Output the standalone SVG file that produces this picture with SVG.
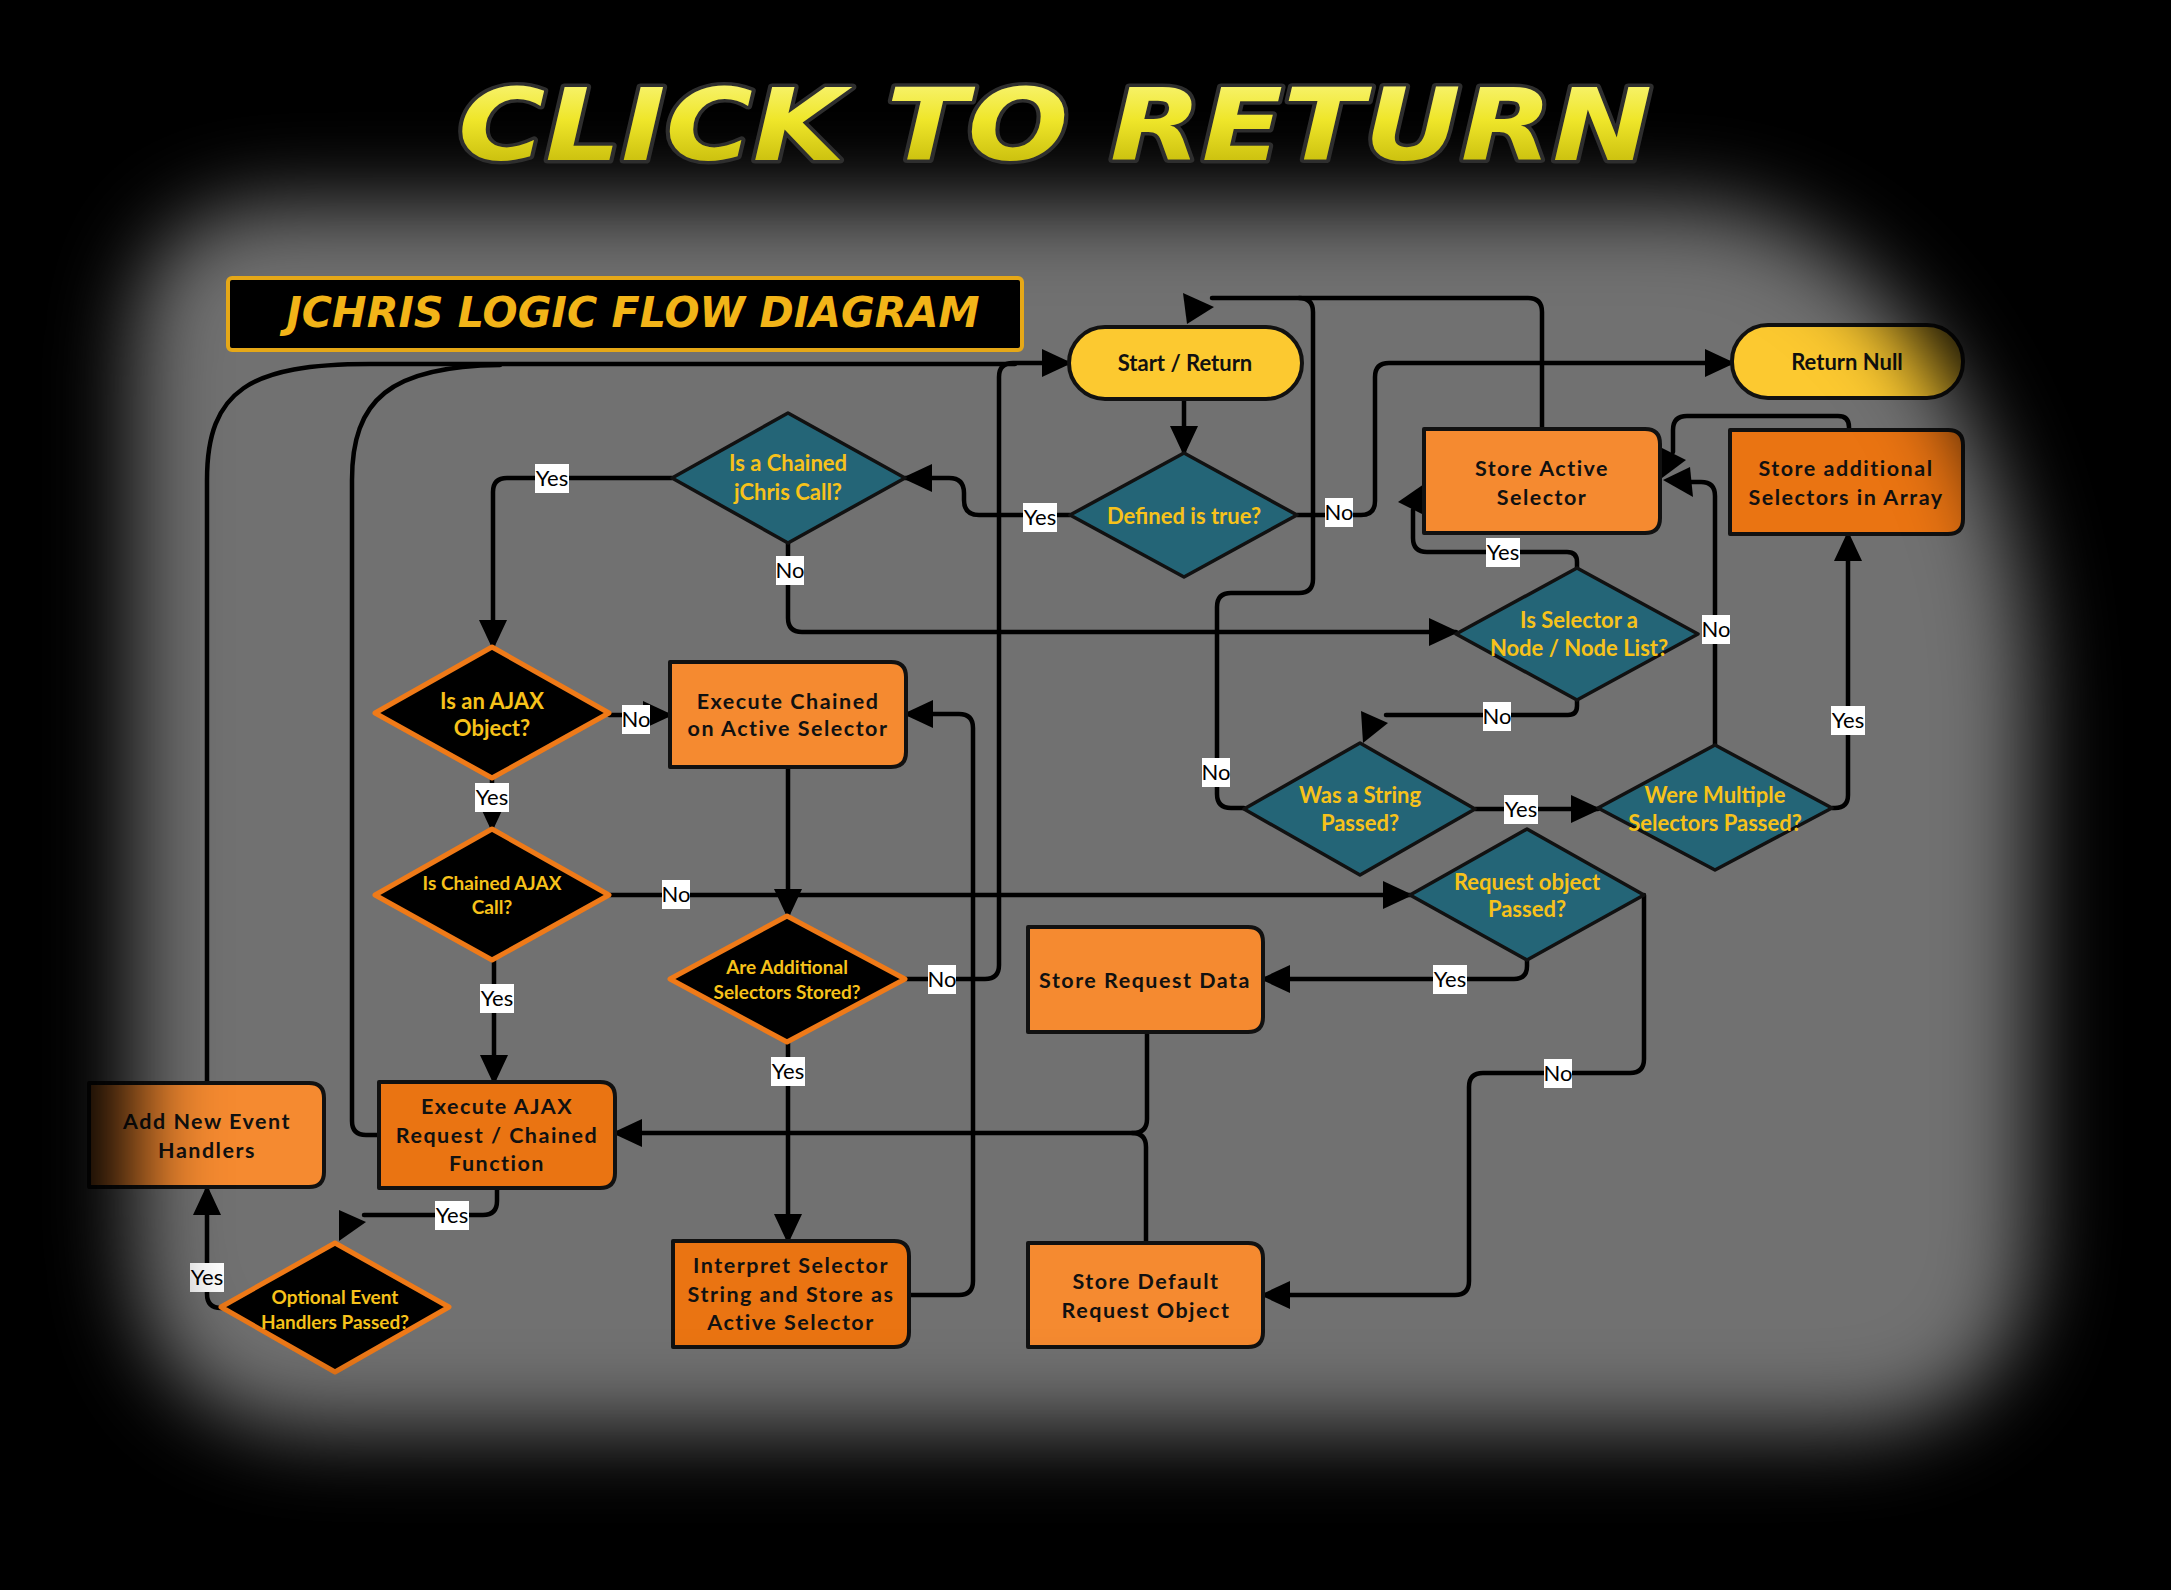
<svg xmlns="http://www.w3.org/2000/svg" width="2171" height="1590" viewBox="0 0 2171 1590">
<defs>
<style>
.ln{fill:none;stroke:#000;stroke-width:4.5;stroke-linecap:round;stroke-linejoin:round}
.ar{fill:#000}
.teal{fill:#246577;stroke:#111;stroke-width:3.5;stroke-linejoin:round}
.blk{fill:#000;stroke:#ef7a18;stroke-width:5;stroke-linejoin:round}
.or1{fill:#f58a30;stroke:#111;stroke-width:4;stroke-linejoin:round}
.or2{fill:#ea7412;stroke:#111;stroke-width:4;stroke-linejoin:round}
.pill{fill:#fcc930;stroke:#111;stroke-width:4}
.rt{font-family:Lato,"Open Sans",sans-serif;font-weight:700;font-size:21.5px;letter-spacing:1.5px;fill:#111;text-anchor:middle}
.pt{font-family:Lato,"Open Sans",sans-serif;font-weight:700;font-size:22px;fill:#111;text-anchor:middle}
.dt{font-family:Lato,"Open Sans",sans-serif;font-weight:700;font-size:22px;fill:#f7c21a;text-anchor:middle}
.ds{font-size:19px}
.lbr{fill:#fff}
.lbt{font-family:Lato,"Open Sans",sans-serif;font-size:22px;fill:#000;text-anchor:middle}
</style>
<marker id="ah" viewBox="0 0 30 28" refX="27" refY="14" markerWidth="30" markerHeight="28" markerUnits="userSpaceOnUse" orient="auto">
<path d="M0,0 L30,14 L0,28 Z" fill="#000"/>
</marker>
<filter id="vb" filterUnits="userSpaceOnUse" x="-200" y="-200" width="2600" height="2000">
<feGaussianBlur stdDeviation="42"/>
</filter>
<mask id="vm" maskUnits="userSpaceOnUse" x="0" y="0" width="2171" height="1590">
<rect x="0" y="0" width="2171" height="1590" fill="#fff"/>
<path d="M135,355 Q135,205 285,205 H1680 A350 500 0 0 1 2030 705 V1230 Q2030,1430 1830,1430 H335 Q135,1430 135,1230 Z" fill="#000" filter="url(#vb)"/>
</mask>
<linearGradient id="tg" x1="0" y1="0" x2="0" y2="1">
<stop offset="0" stop-color="#fbf88a"/>
<stop offset="0.45" stop-color="#efe62a"/>
<stop offset="1" stop-color="#b9ad00"/>
</linearGradient>
</defs>

<rect x="0" y="0" width="2171" height="1590" fill="#717171"/>

<g id="connectors">
<path class="ln" marker-end="url(#ah)" d="M1184,399 V453"/>
<path class="ln" marker-end="url(#ah)" d="M1070,515 H979 Q964,515 964,500 V493 Q964,478 949,478 H905"/>
<path class="ln" marker-end="url(#ah)" d="M1297,515 H1361 Q1375,515 1375,501 V377 Q1375,363 1389,363 H1732"/>
<path class="ln" d="M1542,429 V312 Q1542,298 1528,298 H1212"/>
<path class="ln" d="M1244,808 H1231 Q1217,808 1217,794 V607 Q1217,593 1231,593 H1299 Q1313,593 1313,579 V312 Q1313,298 1299,298"/>
<polygon class="ar" points="1183,293 1214,307 1187,324"/>
<path class="ln" marker-end="url(#ah)" d="M672,478 H507 Q493,478 493,492 V647"/>
<path class="ln" marker-end="url(#ah)" d="M788,543 V618 Q788,632 802,632 H1456"/>
<path class="ln" d="M1577,568 V562 Q1577,552 1567,552 H1427 Q1413,552 1413,538 V510"/>
<polygon class="ar" points="1398,502 1424,484 1426,516"/>
<path class="ln" d="M1715,745 V496 Q1715,482 1701,482 H1690"/>
<polygon class="ar" points="1663,480 1690,467 1693,497"/>
<path class="ln" d="M1849,430 V427 Q1849,416 1838,416 H1687 Q1673,416 1673,430 V452"/>
<polygon class="ar" points="1660,447 1686,460 1662,478"/>
<path class="ln" d="M1577,700 V706 Q1577,715 1568,715 H1386"/>
<polygon class="ar" points="1361,711 1388,723 1363,743"/>
<path class="ln" marker-end="url(#ah)" d="M1475,809 H1598"/>
<path class="ln" marker-end="url(#ah)" d="M1832,808 H1835 Q1848,808 1848,795 V534"/>
<path class="ln" marker-end="url(#ah)" d="M609,715 H670"/>
<path class="ln" marker-end="url(#ah)" d="M492,778 V829"/>
<path class="ln" marker-end="url(#ah)" d="M609,895 H1410"/>
<path class="ln" marker-end="url(#ah)" d="M788,767 V916"/>
<path class="ln" marker-end="url(#ah)" d="M905,979 H985 Q999,979 999,965 V377 Q999,363 1013,363 H1069"/>
<path class="ln" marker-end="url(#ah)" d="M909,1295 H959 Q973,1295 973,1281 V728 Q973,714 959,714 H906"/>
<path class="ln" marker-end="url(#ah)" d="M788,1042 V1241"/>
<path class="ln" marker-end="url(#ah)" d="M1147,1032 V1119 Q1147,1133 1133,1133 H615"/>
<path class="ln" d="M1146,1243 V1147 Q1146,1133 1132,1133"/>
<path class="ln" marker-end="url(#ah)" d="M1527,960 V966 Q1527,979 1514,979 H1263"/>
<path class="ln" marker-end="url(#ah)" d="M1644,895 V1059 Q1644,1073 1630,1073 H1483 Q1469,1073 1469,1087 V1281 Q1469,1295 1455,1295 H1263"/>
<path class="ln" marker-end="url(#ah)" d="M494,960 V1082"/>
<path class="ln" d="M497,1188 V1201 Q497,1215 483,1215 H364"/>
<polygon class="ar" points="339,1210 366,1222 339,1241"/>
<path class="ln" marker-end="url(#ah)" d="M223,1308 H221 Q207,1308 207,1294 V1188"/>
<path class="ln" d="M207,1083 V480 C207,390 250,364 370,364 H1015"/>
<path class="ln" d="M379,1135 H366 Q352,1135 352,1121 V480 C352,400 390,366 500,365"/>
</g>

<g id="start">
<rect class="pill" x="1069" y="327" width="233" height="72" rx="36"/>
<text class="pt" x="1185" y="371">Start / Return</text>
</g>
<g id="return-null">
<rect class="pill" x="1732" y="325" width="231" height="73" rx="36"/>
<text class="pt" x="1847" y="370">Return Null</text>
</g>
<g id="defined">
<polygon class="teal" points="1070,515 1184,453 1297,515 1184,577"/>
<text class="dt" x="1184" y="524">Defined is true?</text>
</g>
<g id="chained-call">
<polygon class="teal" points="672,478 788,413 905,478 788,543"/>
<text class="dt" x="788" y="471">Is a Chained</text>
<text class="dt" x="788" y="500">jChris Call?</text>
</g>
<g id="store-active">
<path class="or1" d="M1424,429 H1645 Q1660,429 1660,444 V518 Q1660,533 1645,533 H1424 Z"/>
<text class="rt" x="1542" y="476">Store Active</text>
<text class="rt" x="1542" y="505">Selector</text>
</g>
<g id="store-additional">
<path class="or2" d="M1730,430 H1948 Q1963,430 1963,445 V519 Q1963,534 1948,534 H1730 Z"/>
<text class="rt" x="1846" y="476">Store additional</text>
<text class="rt" x="1846" y="505">Selectors in Array</text>
</g>
<g id="node-list">
<polygon class="teal" points="1456,634 1577,568 1698,634 1577,700"/>
<text class="dt" x="1579" y="628">Is Selector a</text>
<text class="dt" x="1579" y="656">Node / Node List?</text>
</g>
<g id="ajax-object">
<polygon class="blk" points="375,713 492,647 609,713 492,778"/>
<text class="dt" x="492" y="709">Is an AJAX</text>
<text class="dt" x="492" y="736">Object?</text>
</g>
<g id="exec-chained">
<path class="or1" d="M670,662 H891 Q906,662 906,677 V752 Q906,767 891,767 H670 Z"/>
<text class="rt" x="788" y="709">Execute Chained</text>
<text class="rt" x="788" y="736">on Active Selector</text>
</g>
<g id="chained-ajax">
<polygon class="blk" points="375,895 492,829 609,895 492,960"/>
<text class="dt ds" x="492" y="890">Is Chained AJAX</text>
<text class="dt ds" x="492" y="914">Call?</text>
</g>
<g id="additional-stored">
<polygon class="blk" points="670,979 787,916 905,979 787,1042"/>
<text class="dt ds" x="787" y="974">Are Additional</text>
<text class="dt ds" x="787" y="999">Selectors Stored?</text>
</g>
<g id="string-passed">
<polygon class="teal" points="1244,809 1360,743 1475,809 1360,875"/>
<text class="dt" x="1360" y="803">Was a String</text>
<text class="dt" x="1360" y="831">Passed?</text>
</g>
<g id="multiple-passed">
<polygon class="teal" points="1598,808 1715,745 1832,808 1715,870"/>
<text class="dt" x="1715" y="803">Were Multiple</text>
<text class="dt" x="1715" y="831">Selectors Passed?</text>
</g>
<g id="request-passed">
<polygon class="teal" points="1410,895 1527,829 1644,895 1527,960"/>
<text class="dt" x="1527" y="890">Request object</text>
<text class="dt" x="1527" y="917">Passed?</text>
</g>
<g id="store-request">
<path class="or1" d="M1028,927 H1248 Q1263,927 1263,942 V1017 Q1263,1032 1248,1032 H1028 Z"/>
<text class="rt" x="1145" y="988">Store Request Data</text>
</g>
<g id="store-default">
<path class="or1" d="M1028,1243 H1248 Q1263,1243 1263,1258 V1332 Q1263,1347 1248,1347 H1028 Z"/>
<text class="rt" x="1146" y="1289">Store Default</text>
<text class="rt" x="1146" y="1318">Request Object</text>
</g>
<g id="exec-ajax">
<path class="or2" d="M379,1082 H600 Q615,1082 615,1097 V1173 Q615,1188 600,1188 H379 Z"/>
<text class="rt" x="497" y="1114">Execute AJAX</text>
<text class="rt" x="497" y="1143">Request / Chained</text>
<text class="rt" x="497" y="1171">Function</text>
</g>
<g id="add-event">
<path class="or1" d="M89,1083 H309 Q324,1083 324,1098 V1172 Q324,1187 309,1187 H89 Z"/>
<text class="rt" x="207" y="1129">Add New Event</text>
<text class="rt" x="207" y="1158">Handlers</text>
</g>
<g id="optional-events">
<polygon class="blk" points="221,1307 335,1243 449,1307 335,1372"/>
<text class="dt ds" x="335" y="1304">Optional Event</text>
<text class="dt ds" x="335" y="1329">Handlers Passed?</text>
</g>
<g id="interpret">
<path class="or2" d="M673,1241 H894 Q909,1241 909,1256 V1332 Q909,1347 894,1347 H673 Z"/>
<text class="rt" x="791" y="1273">Interpret Selector</text>
<text class="rt" x="791" y="1302">String and Store as</text>
<text class="rt" x="791" y="1330">Active Selector</text>
</g>

<g id="labels">
<rect class="lbr" x="535" y="464" width="34" height="29"/><text class="lbt" x="552" y="486">Yes</text>
<rect class="lbr" x="1023" y="503" width="34" height="29"/><text class="lbt" x="1040" y="525">Yes</text>
<rect class="lbr" x="1325" y="498" width="28" height="29"/><text class="lbt" x="1339" y="520">No</text>
<rect class="lbr" x="776" y="556" width="28" height="29"/><text class="lbt" x="790" y="578">No</text>
<rect class="lbr" x="1486" y="538" width="34" height="29"/><text class="lbt" x="1503" y="560">Yes</text>
<rect class="lbr" x="1702" y="615" width="28" height="29"/><text class="lbt" x="1716" y="637">No</text>
<rect class="lbr" x="1483" y="702" width="28" height="29"/><text class="lbt" x="1497" y="724">No</text>
<rect class="lbr" x="1202" y="758" width="28" height="29"/><text class="lbt" x="1216" y="780">No</text>
<rect class="lbr" x="1504" y="795" width="34" height="29"/><text class="lbt" x="1521" y="817">Yes</text>
<rect class="lbr" x="1831" y="706" width="34" height="29"/><text class="lbt" x="1848" y="728">Yes</text>
<rect class="lbr" x="622" y="705" width="28" height="29"/><text class="lbt" x="636" y="727">No</text>
<rect class="lbr" x="475" y="783" width="34" height="29"/><text class="lbt" x="492" y="805">Yes</text>
<rect class="lbr" x="662" y="880" width="28" height="29"/><text class="lbt" x="676" y="902">No</text>
<rect class="lbr" x="928" y="965" width="28" height="29"/><text class="lbt" x="942" y="987">No</text>
<rect class="lbr" x="480" y="984" width="34" height="29"/><text class="lbt" x="497" y="1006">Yes</text>
<rect class="lbr" x="771" y="1057" width="34" height="29"/><text class="lbt" x="788" y="1079">Yes</text>
<rect class="lbr" x="1433" y="965" width="34" height="29"/><text class="lbt" x="1450" y="987">Yes</text>
<rect class="lbr" x="1544" y="1059" width="28" height="29"/><text class="lbt" x="1558" y="1081">No</text>
<rect class="lbr" x="435" y="1201" width="34" height="29"/><text class="lbt" x="452" y="1223">Yes</text>
<rect class="lbr" x="190" y="1263" width="34" height="29"/><text class="lbt" x="207" y="1285">Yes</text>
</g>

<rect id="vignette" x="0" y="0" width="2171" height="1590" fill="#000" mask="url(#vm)"/>

<g id="title">
<text x="1055" y="160" textLength="1194" lengthAdjust="spacingAndGlyphs" font-family="'DejaVu Sans', sans-serif" font-weight="700" font-style="italic" font-size="100" fill="url(#tg)" stroke="#2e2e2e" stroke-width="7" paint-order="stroke" text-anchor="middle" stroke-linejoin="round">CLICK TO RETURN</text>
</g>
<g id="banner">
<rect x="228" y="278" width="794" height="72" rx="4" fill="#000" stroke="#e6a817" stroke-width="4"/>
<text x="633" y="327" textLength="693" lengthAdjust="spacingAndGlyphs" font-family="'DejaVu Sans', sans-serif" font-weight="700" font-style="italic" font-size="42" fill="#f2b418" text-anchor="middle">JCHRIS LOGIC FLOW DIAGRAM</text>
</g>
</svg>
